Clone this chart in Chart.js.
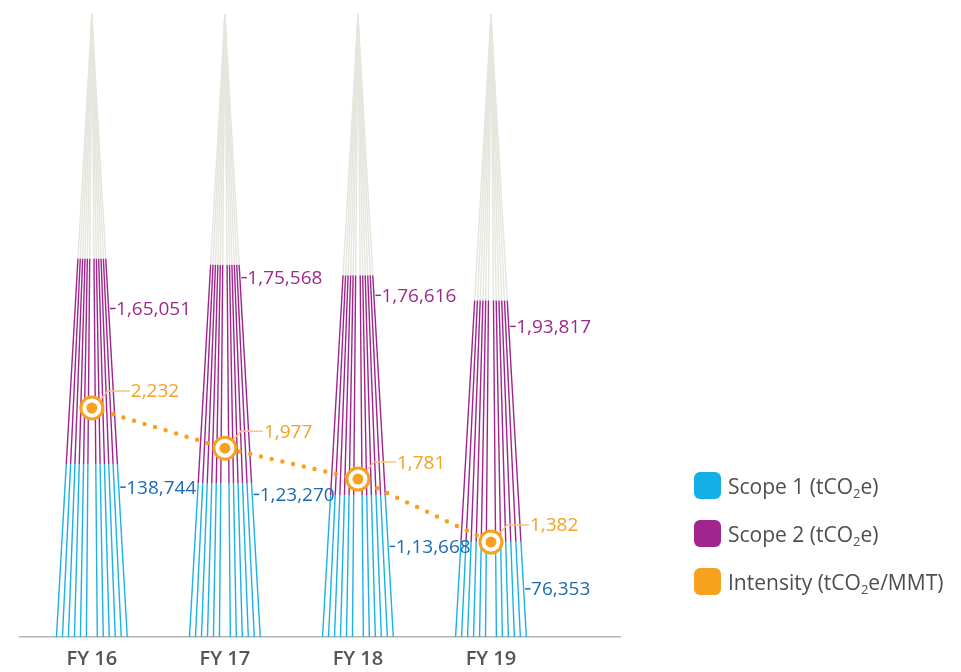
<!DOCTYPE html>
<html>
<head>
<meta charset="utf-8">
<script src="https://cdn.jsdelivr.net/npm/chart.js@4/dist/chart.umd.min.js"></script>
<style>
  html, body { margin: 0; padding: 0; background: #ffffff; }
  #wrap { position: relative; width: 961px; height: 672px; }
  #chart { position: absolute; left: 0; top: 0; }
  .legend { position: absolute; left: 694px; top: 472px; font-family: "Open Sans", sans-serif; font-size: 21px; color: #4d4d4d; }
  .legend .row { display: flex; align-items: center; height: 27px; margin-bottom: 21px; }
  .legend .sw { width: 27px; height: 27px; border-radius: 6px; margin-right: 7px; flex: none; }
  .legend sub { font-size: 13px; vertical-align: -4px; line-height: 0; }
</style>
</head>
<body>
<div id="wrap">
  <canvas id="chart" width="961" height="672"></canvas>
  <div class="legend">
    <div class="row"><span class="sw" style="background:#13afe7"></span><span>Scope 1 (tCO<sub>2</sub>e)</span></div>
    <div class="row"><span class="sw" style="background:#a0268e"></span><span>Scope 2 (tCO<sub>2</sub>e)</span></div>
    <div class="row"><span class="sw" style="background:#f7a21f"></span><span>Intensity (tCO<sub>2</sub>e/MMT)</span></div>
  </div>
</div>
<script>
// Emissions by financial year
const categories = ['FY 16', 'FY 17', 'FY 18', 'FY 19'];
const scope1 = [138744, 123270, 113668, 76353];
const scope2 = [165051, 175568, 176616, 193817];
const intensity = [2232, 1977, 1781, 1382];
const scope1Text = ['138,744', '1,23,270', '1,13,668', '76,353'];
const scope2Text = ['1,65,051', '1,75,568', '1,76,616', '1,93,817'];
const intensityText = ['2,232', '1,977', '1,781', '1,382'];

// styling
const COL_S1 = '#1cb2e8';
const COL_S2 = '#a0268e';
const COL_TIP = '#e6e6de';
const COL_INT = '#f7a21f';
const TXT_S1 = '#1a6ab4';
const TXT_S2 = '#9c2a8d';
const TXT_INT = '#f4a124';
const Y_TOP = 500000;                 // apex of every spike
const SPREAD = [0.041, 0.086, 0.131, 0.176, 0.221, 0.266]; // half-offsets of the strands (x units)
const S2_DROP = [50, 13, 20, 26];     // label drop below stacked top (px)
const S1_DROP = [23, 11, 51, 47];     // label drop below scope 1 top (px)

// one strand = polyline from the base to the apex, split at scope 1 and scope 1+2
const strandColors = [COL_S1, COL_S2, COL_TIP];
const strandSets = [];
categories.forEach((cat, i) => {
  const levels = [0, scope1[i], scope1[i] + scope2[i], Y_TOP];
  const offs = [];
  SPREAD.forEach(s => { offs.push(-s); offs.push(s); });
  offs.forEach(off => {
    strandSets.push({
      type: 'line',
      yAxisID: 'y',
      data: levels.map(v => ({ x: i + off * (1 - v / Y_TOP), y: v })),
      borderWidth: 1.4,
      pointRadius: 0,
      tension: 0,
      borderColor: COL_S1,
      segment: { borderColor: ctx => strandColors[ctx.p0DataIndex] }
    });
  });
});

const intensityPoints = intensity.map((v, i) => ({ x: i, y: v }));

const labelPlugin = {
  id: 'valueLabels',
  afterDatasetsDraw(chart) {
    const { ctx } = chart;
    const xs = chart.scales.x, ys = chart.scales.y, y1 = chart.scales.y1;
    const maxOff = SPREAD[SPREAD.length - 1];
    ctx.save();
    ctx.font = '400 19px "Open Sans", sans-serif';
    ctx.textBaseline = 'middle';
    ctx.textAlign = 'left';
    const edgeLabel = (i, py, text, color) => {
      const v = ys.getValueForPixel(py);
      const ex = xs.getPixelForValue(i + maxOff * (1 - v / Y_TOP));
      ctx.strokeStyle = color;
      ctx.lineWidth = 1.5;
      ctx.beginPath();
      ctx.moveTo(ex + 1.5, py);
      ctx.lineTo(ex + 7, py);
      ctx.stroke();
      ctx.fillStyle = color;
      ctx.fillText(text, ex + 7.5, py + 1);
    };
    categories.forEach((c, i) => {
      edgeLabel(i, ys.getPixelForValue(scope1[i] + scope2[i]) + S2_DROP[i], scope2Text[i], TXT_S2);
      edgeLabel(i, ys.getPixelForValue(scope1[i]) + S1_DROP[i], scope1Text[i], TXT_S1);
      // intensity callout
      const cx = xs.getPixelForValue(i), cy = y1.getPixelForValue(intensity[i]);
      ctx.strokeStyle = '#f9c47a';
      ctx.lineWidth = 1.5;
      ctx.beginPath();
      ctx.moveTo(cx + 9, cy - 9);
      ctx.lineTo(cx + 16, cy - 17);
      ctx.lineTo(cx + 38, cy - 17);
      ctx.stroke();
      ctx.fillStyle = TXT_INT;
      ctx.fillText(intensityText[i], cx + 39, cy - 16);
    });
    ctx.restore();
  }
};

new Chart(document.getElementById('chart'), {
  type: 'line',
  data: {
    datasets: [
      {
        label: 'Intensity (tCO2e/MMT) centre',
        yAxisID: 'y1',
        data: intensityPoints,
        showLine: false,
        pointRadius: 5.5,
        pointBackgroundColor: COL_INT,
        pointBorderWidth: 0
      },
      {
        label: 'Intensity (tCO2e/MMT)',
        yAxisID: 'y1',
        data: intensityPoints,
        borderColor: COL_INT,
        borderWidth: 4.5,
        borderDash: [0, 11],
        borderCapStyle: 'round',
        tension: 0,
        pointRadius: 11,
        pointBorderWidth: 3,
        pointBorderColor: COL_INT,
        pointBackgroundColor: '#ffffff'
      },
      ...strandSets
    ]
  },
  options: {
    responsive: false,
    animation: false,
    events: [],
    layout: { padding: { left: 20, right: 341, top: 6, bottom: 1 } },
    plugins: { legend: { display: false }, tooltip: { enabled: false } },
    scales: {
      x: {
        type: 'linear',
        min: -0.54,
        max: 3.97,
        afterBuildTicks: axis => { axis.ticks = categories.map((c, i) => ({ value: i })); },
        afterFit: axis => { axis.height = 34; },
        ticks: {
          callback: v => categories[v],
          font: { family: '"Open Sans", sans-serif', size: 20, weight: '600' },
          color: '#555555',
          padding: 10,
          maxRotation: 0,
          autoSkip: false
        },
        grid: { display: false, drawTicks: false },
        border: { display: true, color: '#b3b3b3', width: 1.5 }
      },
      y: {
        display: false,
        min: 0,
        max: Y_TOP
      },
      y1: {
        display: false,
        min: 780,
        max: 4730
      }
    }
  },
  plugins: [labelPlugin]
});
</script>
</body>
</html>
